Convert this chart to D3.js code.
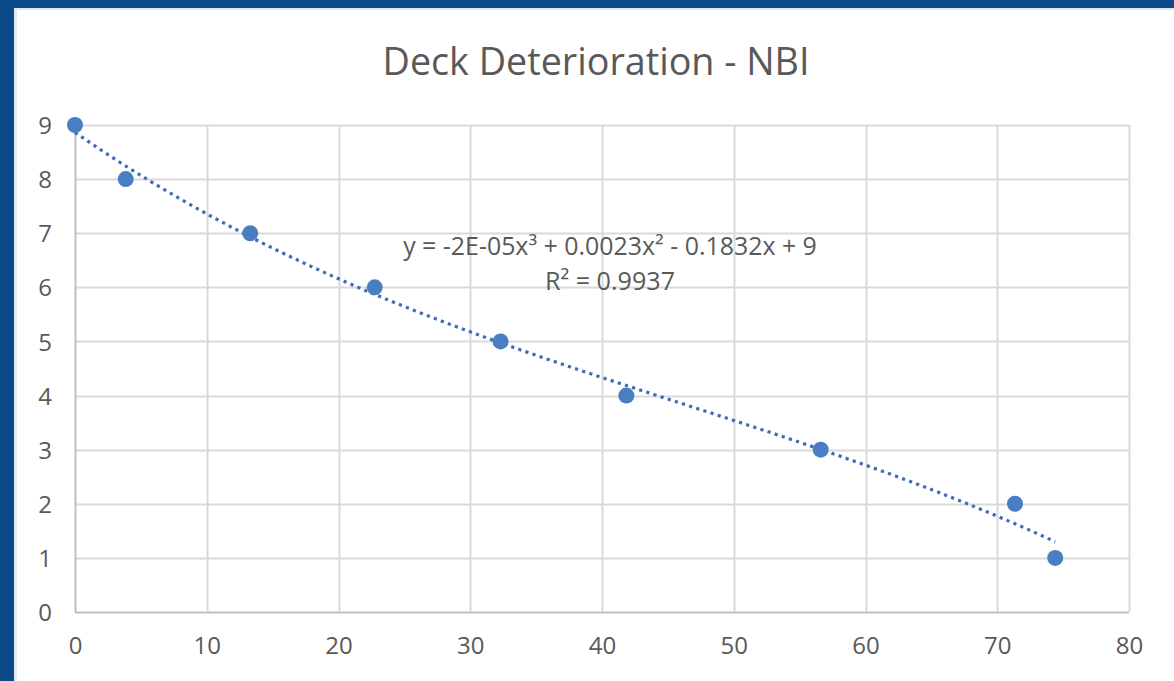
<!DOCTYPE html>
<html><head><meta charset="utf-8">
<script src="https://cdn.jsdelivr.net/npm/d3@7"></script>
<style>
html,body{margin:0;padding:0;background:#fff;}
svg{display:block;font-family:"Open Sans",Lato,sans-serif;}
</style></head>
<body><svg id="chart" width="1174" height="681"></svg>
<script>
const title = "Deck Deterioration - NBI";
const ageYears = [0, 3.85, 13.3, 22.75, 32.3, 41.85, 56.6, 71.35, 74.4];
const ratings = [9, 8, 7, 6, 5, 4, 3, 2, 1];
const xTicks = [0, 10, 20, 30, 40, 50, 60, 70, 80];
const yTicks = [0, 1, 2, 3, 4, 5, 6, 7, 8, 9];
const equationText = "y = -2E-05x\u00B3 + 0.0023x\u00B2 - 0.1832x + 9";
const r2Text = "R\u00B2 = 0.9937";

const svg = d3.select("#chart");
const W = 1174, H = 681;
const FONT = "'Open Sans',Lato,sans-serif";
// frame
svg.append("rect").attr("width", W).attr("height", H).attr("fill", "#ffffff");
svg.append("rect").attr("x", 0).attr("y", 0).attr("width", W).attr("height", 8).attr("fill", "#0b4a86");
svg.append("rect").attr("x", 0).attr("y", 8).attr("width", W).attr("height", 2).attr("fill", "#dbe6f0");
svg.append("rect").attr("x", 0).attr("y", 0).attr("width", 14).attr("height", H).attr("fill", "#0b4a86");
svg.append("rect").attr("x", 14).attr("y", 8).attr("width", 3).attr("height", H).attr("fill", "#e4ecf3");

const m = {left: 75, right: 1129, top: 125, bottom: 612};
const x = d3.scaleLinear().domain([0, 80]).range([m.left, m.right]);
const y = d3.scaleLinear().domain([0, 9]).range([m.bottom, m.top]);

// gridlines
const g = svg.append("g");
g.selectAll("line.h").data(yTicks).join("line")
  .attr("x1", m.left).attr("x2", m.right)
  .attr("y1", d => Math.round(y(d)) + 0.5).attr("y2", d => Math.round(y(d)) + 0.5)
  .attr("stroke", d => d === 0 ? "#bfbfbf" : "#d9d9d9").attr("stroke-width", 2);
g.selectAll("line.v").data(xTicks).join("line")
  .attr("y1", m.top).attr("y2", m.bottom)
  .attr("x1", d => Math.round(x(d)) + 0.5).attr("x2", d => Math.round(x(d)) + 0.5)
  .attr("stroke", d => d === 0 ? "#bfbfbf" : "#d9d9d9").attr("stroke-width", 2);

// axes labels
const xAxis = d3.axisBottom(x).tickValues(xTicks).tickSize(0).tickPadding(0);
const xa = svg.append("g").attr("transform", `translate(0,${m.bottom + 42})`).call(xAxis);
xa.select(".domain").remove();
xa.selectAll("text").attr("font-size", 24).attr("fill", "#595959").attr("font-family", FONT).attr("dy", "0");
const yAxis = d3.axisLeft(y).tickValues(yTicks).tickSize(0).tickPadding(0);
const ya = svg.append("g").attr("transform", `translate(${m.left - 23},0)`).call(yAxis);
ya.select(".domain").remove();
ya.selectAll("text").attr("font-size", 24).attr("fill", "#595959").attr("font-family", FONT).attr("dy", "0.36em");

function fitText(sel, target) {
  const len = sel.node().getComputedTextLength();
  const fs = +sel.attr("font-size");
  sel.attr("font-size", (fs * target / len).toFixed(2));
}

// title
const t = svg.append("text").attr("x", 596).attr("y", 75).attr("text-anchor", "middle")
  .attr("font-size", 32).attr("fill", "#595959").text(title);
fitText(t, 427);

// cubic least-squares trendline from data
function polyfit(xs, ys, deg) {
  const n = deg + 1;
  const A = Array.from({length: n}, () => new Array(n + 1).fill(0));
  for (let k = 0; k < xs.length; k++) {
    for (let i = 0; i < n; i++) {
      for (let j = 0; j < n; j++) A[i][j] += Math.pow(xs[k], i + j);
      A[i][n] += ys[k] * Math.pow(xs[k], i);
    }
  }
  for (let i = 0; i < n; i++) {
    let p = i;
    for (let r = i + 1; r < n; r++) if (Math.abs(A[r][i]) > Math.abs(A[p][i])) p = r;
    [A[i], A[p]] = [A[p], A[i]];
    for (let r = 0; r < n; r++) {
      if (r === i) continue;
      const f = A[r][i] / A[i][i];
      for (let c = i; c <= n; c++) A[r][c] -= f * A[i][c];
    }
  }
  return A.map((row, i) => row[n] / row[i]);
}
const coef = polyfit(ageYears, ratings, 3);
const fx = v => coef.reduce((s, c, i) => s + c * Math.pow(v, i), 0);
const xMax = d3.max(ageYears);
const trend = d3.range(0, xMax, 0.5).concat([xMax]).map(v => [v, fx(v)]);
svg.append("path").datum(trend)
  .attr("d", d3.line().x(d => x(d[0])).y(d => y(d[1])))
  .attr("fill", "none").attr("stroke", "#3f6cb8").attr("stroke-width", 3.2)
  .attr("stroke-dasharray", "3.2,4.3");

// points
svg.selectAll("circle.pt").data(ageYears.map((a, i) => [a, ratings[i]])).join("circle")
  .attr("cx", d => x(d[0])).attr("cy", d => y(d[1])).attr("r", 8)
  .attr("fill", "#4a7ec2");

// equation label
const eq = svg.append("text").attr("x", 610).attr("y", 255).attr("text-anchor", "middle")
  .attr("font-size", 20).attr("fill", "#595959").text(equationText);
fitText(eq, 414);
const r2 = svg.append("text").attr("x", 610).attr("y", 290).attr("text-anchor", "middle")
  .attr("font-size", 20).attr("fill", "#595959").text(r2Text);
fitText(r2, 130);
</script></body></html>
